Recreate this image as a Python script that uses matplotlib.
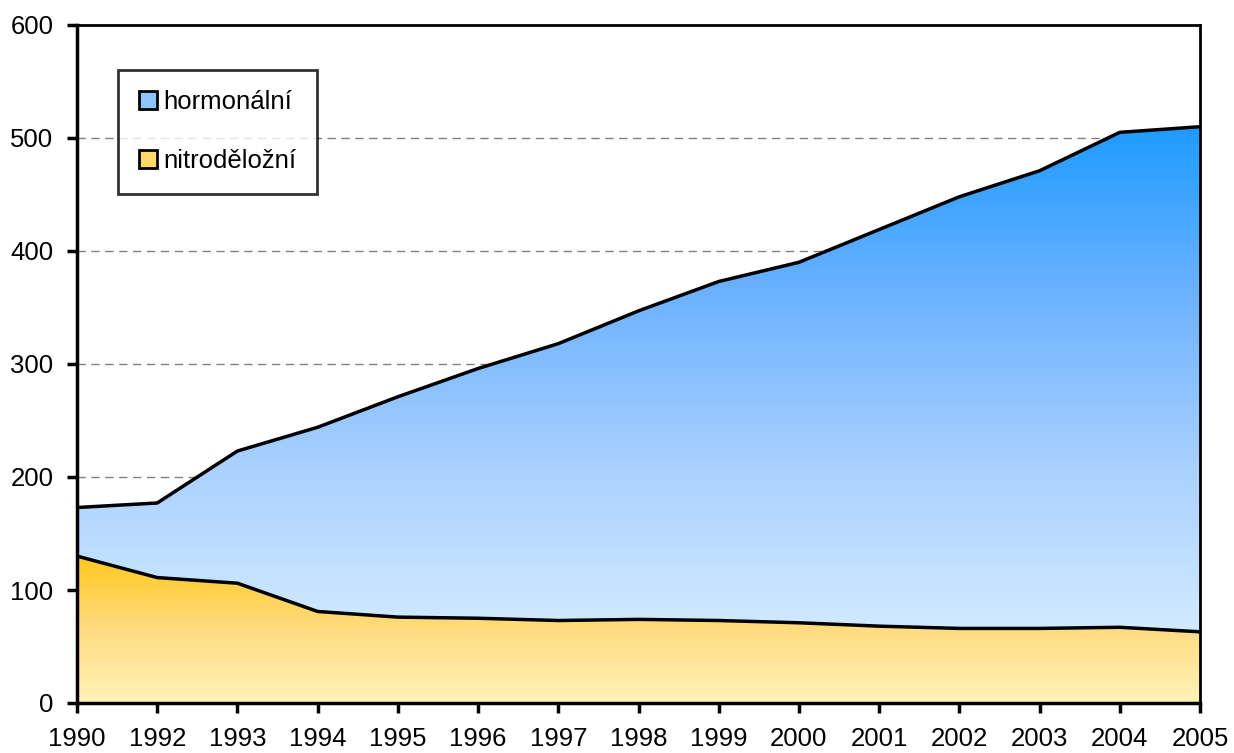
import numpy as np
import matplotlib.pyplot as plt
from matplotlib.patches import Polygon, Patch
from matplotlib.colors import LinearSegmentedColormap

plt.rcParams['font.family'] = ['Liberation Sans', 'DejaVu Sans']

years = ['1990', '1992', '1993', '1994', '1995', '1996', '1997', '1998',
         '1999', '2000', '2001', '2002', '2003', '2004', '2005']
nitro = [130, 111, 106, 81, 76, 75, 73, 74, 73, 71, 68, 66, 66, 67, 63]
total = [173, 177, 223, 244, 271, 296, 318, 347, 373, 390, 419, 448, 471, 505, 510]
hormon = [t - n for t, n in zip(total, nitro)]

x = np.arange(len(years))
nitro = np.array(nitro)
top = nitro + np.array(hormon)

fig = plt.figure(figsize=(12.34, 7.53), dpi=100)
ax = fig.add_axes([77 / 1234, 1 - 703 / 753, 1123 / 1234, 678 / 753])

for g in range(100, 600, 100):
    ax.axhline(g, color='#808080', lw=1, ls=(0, (6, 4)), zorder=0)


def grad_area(lower, upper, colors, ymin, ymax):
    verts = list(zip(x, upper)) + list(zip(x[::-1], lower[::-1]))
    poly = Polygon(verts, closed=True, facecolor='none', edgecolor='none')
    ax.add_patch(poly)
    cmap = LinearSegmentedColormap.from_list('g', colors)
    grad = np.linspace(0, 1, 256).reshape(-1, 1)
    im = ax.imshow(grad, cmap=cmap, origin='lower', aspect='auto',
                   extent=(0, len(years) - 1, ymin, ymax), zorder=1)
    im.set_clip_path(poly)


grad_area(np.zeros_like(nitro), nitro, ['#FFF2B8', '#FFDC80', '#FFC81E'], 0, nitro.max())
grad_area(nitro, top, ['#D2EAFF', '#A8D0FF', '#6CB2FF', '#1E9BFF'], nitro.min(), top.max())
ax.set_ylim(0, 600)
ax.set_xlim(0, len(years) - 1)

ax.plot(x, top, color='black', lw=2.5, zorder=3, solid_joinstyle='round')
ax.plot(x, nitro, color='black', lw=2.5, zorder=3, solid_joinstyle='round')

for s in ['top', 'right']:
    ax.spines[s].set_linewidth(2)
for s in ['left', 'bottom']:
    ax.spines[s].set_linewidth(2.5)
for s in ax.spines.values():
    s.set_zorder(4)

ax.set_xticks(x)
ax.set_xticklabels(years)
ax.set_yticks(range(0, 601, 100))
ax.tick_params(axis='both', direction='out', length=7, width=2.5, labelsize=18.5)
ax.tick_params(axis='x', pad=10)
ax.tick_params(axis='y', pad=10)

handles = [Patch(facecolor='#8CC6FF', edgecolor='black', lw=2, label='hormonální'),
           Patch(facecolor='#FFD966', edgecolor='black', lw=2, label='nitroděložní')]
leg = ax.legend(handles=handles, loc='upper left', bbox_to_anchor=(0.0365, 0.934),
                borderaxespad=0, fontsize=18.5, frameon=True, fancybox=False,
                handlelength=0.7, handleheight=0.7, handletextpad=0.25,
                labelspacing=1.35, borderpad=0.8)
leg.get_frame().set_edgecolor('black')
leg.get_frame().set_linewidth(2)
leg.set_zorder(5)

fig.savefig('out.png', dpi=100)
